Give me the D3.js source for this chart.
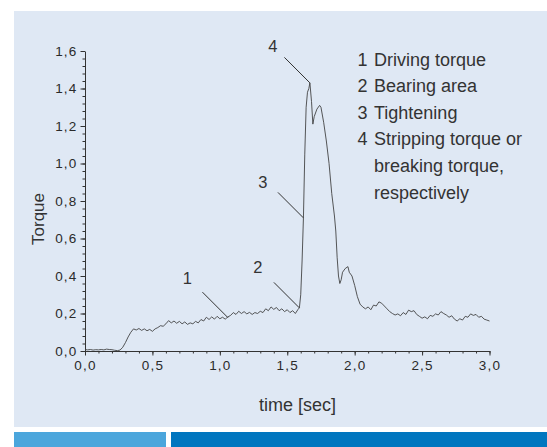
<!DOCTYPE html>
<html><head><meta charset="utf-8">
<script src="https://cdn.jsdelivr.net/npm/d3@7"></script>
<style>
html,body{margin:0;padding:0;background:#fff;}
svg{display:block;font-family:"Liberation Sans",Arial,Helvetica,sans-serif;}
</style></head>
<body>
<script>
// ---- data ----
const timeSec = [
0.00,0.02,0.04,0.06,0.08,0.10,0.12,0.14,0.16,0.18,0.20,0.22,0.24,0.26,0.28,0.30,0.32,0.34,0.36,0.38,
0.40,0.42,0.44,0.46,0.48,0.50,0.52,0.54,0.56,0.58,0.60,0.62,0.64,0.66,0.68,0.70,0.72,0.74,0.76,0.78,
0.80,0.82,0.84,0.86,0.88,0.90,0.92,0.94,0.96,0.98,1.00,1.02,1.04,1.06,1.08,1.10,1.12,1.14,1.16,1.18,
1.20,1.22,1.24,1.26,1.28,1.30,1.32,1.34,1.36,1.38,1.40,1.42,1.44,1.46,1.48,1.50,1.52,1.54,1.56,1.58,
1.59,1.60,1.61,1.62,1.63,1.64,1.65,1.66,1.668,1.68,1.69,1.70,1.72,1.74,1.75,1.77,1.79,1.81,1.83,1.85,
1.86,1.87,1.88,1.89,1.90,1.91,1.93,1.95,1.96,1.98,2.00,2.02,2.04,2.06,2.08,2.10,2.12,2.14,2.16,2.18,
2.20,2.22,2.24,2.26,2.28,2.30,2.32,2.34,2.36,2.38,2.40,2.42,2.44,2.46,2.48,2.50,2.52,2.54,2.56,2.58,
2.60,2.62,2.64,2.66,2.68,2.70,2.72,2.74,2.76,2.78,2.80,2.82,2.84,2.86,2.88,2.90,2.92,2.94,2.96,2.98,3.00];
const torque = [
0.008,0.006,0.008,0.005,0.007,0.006,0.008,0.006,0.010,0.008,0.007,0.004,0.002,0.005,0.020,0.045,0.075,0.100,0.118,0.112,
0.120,0.110,0.118,0.108,0.115,0.105,0.118,0.125,0.135,0.132,0.145,0.162,0.150,0.160,0.148,0.158,0.145,0.155,0.142,0.150,
0.145,0.158,0.150,0.168,0.160,0.180,0.168,0.182,0.170,0.185,0.172,0.180,0.170,0.182,0.190,0.205,0.195,0.212,0.200,0.210,
0.198,0.206,0.195,0.205,0.200,0.212,0.205,0.225,0.215,0.235,0.222,0.232,0.215,0.225,0.210,0.220,0.205,0.215,0.200,0.222,
0.230,0.300,0.480,0.710,1.050,1.300,1.380,1.400,1.430,1.330,1.210,1.250,1.290,1.310,1.300,1.220,1.120,1.000,0.840,0.720,
0.640,0.500,0.400,0.360,0.380,0.420,0.440,0.450,0.420,0.400,0.350,0.290,0.250,0.235,0.225,0.235,0.220,0.245,0.240,0.262,
0.255,0.240,0.225,0.210,0.200,0.192,0.198,0.188,0.205,0.195,0.218,0.210,0.215,0.195,0.185,0.175,0.182,0.172,0.190,0.185,
0.198,0.192,0.210,0.200,0.192,0.180,0.188,0.170,0.160,0.172,0.165,0.185,0.180,0.198,0.190,0.195,0.180,0.185,0.170,0.165,0.160];

const xTicks = [0, 0.5, 1.0, 1.5, 2.0, 2.5, 3.0];
const yTicks = [0, 0.2, 0.4, 0.6, 0.8, 1.0, 1.2, 1.4, 1.6];

const annLabels = ["1", "2", "3", "4"];
const annTime   = [1.06, 1.59, 1.62, 1.668];
const annTorque = [0.178, 0.23, 0.71, 1.43];

const legendNums  = ["1", "2", "3", "4", "", ""];
const legendTexts = ["Driving torque", "Bearing area", "Tightening", "Stripping torque or", "breaking torque,", "respectively"];

// ---- drawing ----
const W = 547, H = 447;
const svg = d3.select("body").append("svg").attr("width", W).attr("height", H);

const textCol = "#333";
svg.append("rect").attr("x", 14).attr("y", 11).attr("width", W - 14).attr("height", 416).attr("fill", "#dfe8f4");
svg.append("rect").attr("x", 14).attr("y", 432).attr("width", 152).attr("height", 15).attr("fill", "#4ba6dc");
svg.append("rect").attr("x", 171).attr("y", 432).attr("width", W - 171).attr("height", 15).attr("fill", "#0076bf");

const x = d3.scaleLinear().domain([0, 3]).range([85, 489.5]);
const y = d3.scaleLinear().domain([0, 1.6]).range([351, 51]);

const fmt = d => d3.format(".1f")(d).replace(".", ",");

// minor ticks
const gx = svg.append("g").attr("transform", `translate(0,${y(0)})`);
gx.call(d3.axisBottom(x).tickValues(d3.range(0, 31).map(i => i / 10)).tickSize(2.5).tickFormat(""));
gx.call(g => g.select(".domain").remove());
const gx2 = svg.append("g").attr("transform", `translate(0,${y(0)})`)
  .call(d3.axisBottom(x).tickValues(xTicks).tickSize(4.5).tickSizeOuter(0).tickPadding(5).tickFormat(fmt));
const gy = svg.append("g").attr("transform", `translate(${x(0)},0)`);
gy.call(d3.axisLeft(y).tickValues(d3.range(0, 41).map(i => i * 0.04)).tickSize(2.5).tickFormat(""));
gy.call(g => g.select(".domain").remove());
const gy2 = svg.append("g").attr("transform", `translate(${x(0)},0)`)
  .call(d3.axisLeft(y).tickValues(yTicks).tickSize(4.5).tickSizeOuter(0).tickPadding(3).tickFormat(fmt));

svg.selectAll(".domain, .tick line").attr("stroke", "#333").attr("stroke-width", 1);
[gx2, gy2].forEach(g => g.selectAll("text")
  .attr("font-family", "'Liberation Sans', Arial, sans-serif")
  .attr("font-size", 13.5).attr("fill", "#2a2a2a").style("letter-spacing", "1.2px"));

// curve
const pts = timeSec.map((t, i) => [t, torque[i]]);
svg.append("path").datum(pts)
  .attr("fill", "none").attr("stroke", "#3a3a3a").attr("stroke-width", 0.85)
  .attr("d", d3.line().x(d => x(d[0])).y(d => y(d[1])));

// annotations
const annDx = [-40.5, -41.5, -40.5, -37];
const annDy = [-33.5, -34.5, -29.5, -30.5];
annLabels.forEach((lab, i) => {
  const tx = x(annTime[i]), ty = y(annTorque[i]);
  svg.append("line").attr("x1", tx - 25.5).attr("y1", ty - 25.5).attr("x2", tx).attr("y2", ty)
    .attr("stroke", "#333").attr("stroke-width", 1);
  svg.append("text").attr("x", tx + annDx[i]).attr("y", ty + annDy[i]).attr("text-anchor", "middle")
    .attr("font-size", 16.5).attr("fill", textCol).text(lab);
});

// legend
legendTexts.forEach((txt, i) => {
  const yy = 65.5 + i * 26.6;
  svg.append("text").attr("x", 357.5).attr("y", yy).attr("font-size", 18).attr("fill", textCol).text(legendNums[i]);
  svg.append("text").attr("x", 374).attr("y", yy).attr("font-size", 18).attr("fill", textCol).text(txt);
});

// axis titles
svg.append("text").attr("x", 297.5).attr("y", 410.5).attr("text-anchor", "middle")
  .attr("font-size", 18).attr("fill", textCol).text("time [sec]");
svg.append("text").attr("transform", "translate(43.5,219) rotate(-90)").attr("text-anchor", "middle")
  .attr("font-size", 17).attr("fill", textCol).text("Torque");
</script>
</body></html>
